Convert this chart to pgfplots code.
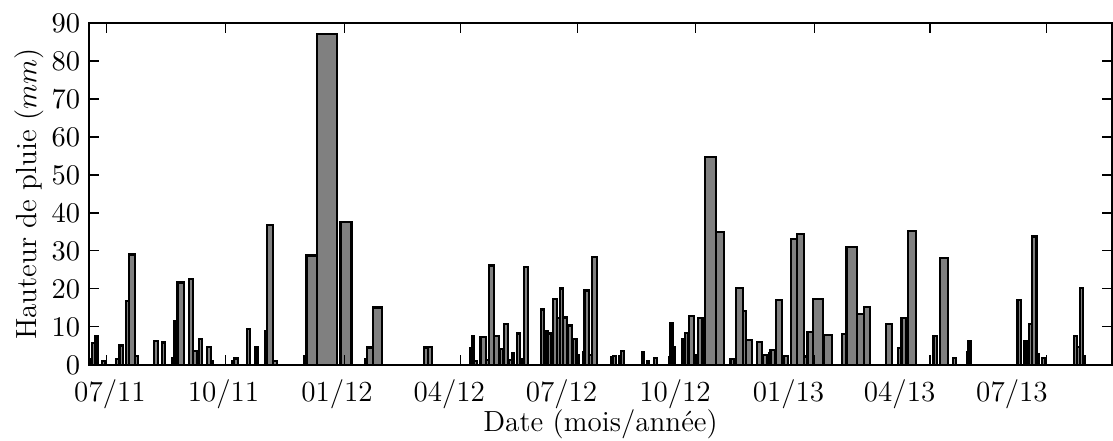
\documentclass[border=0pt]{standalone}
\usepackage{pgfplots}
\pgfplotsset{compat=1.18}
\pgfplotstableread{
x y
-16.2 1.5
-14.6 5.7
-12.2 7.7
-10.1 0
-6.5 1.1
-4.1 0
4.9 1.5
7.7 5.1
10.5 0
13.0 16.9
15.4 29.1
20.3 2.4
22.7 0
35.7 6.3
38.9 0
42.1 5.9
44.6 0
50.3 1.7
52.3 11.6
54.7 21.7
60.0 0
64.0 22.6
67.3 3.6
70.5 0
72.1 6.8
74.6 0
78.6 4.8
81.9 1.0
83.5 0
98.9 1.0
100.5 1.7
103.7 0
111.0 9.5
113.5 0
117.9 4.7
120.0 0
125.6 8.8
127.2 36.8
132.1 1.0
135.3 0
157.2 2.4
159.3 28.8
167.8 87.1
184.0 0
186.8 37.7
195.7 0
206.7 1.5
208.3 4.6
213.2 15.1
220.4 0
254.5 4.6
258.0 4.8
260.7 0
291.8 4.5
293.4 7.7
295.2 1.0
297.2 0
300.4 7.4
304.7 1.3
306.9 26.2
311.5 7.7
315.0 0
316.1 4.1
318.5 1.3
319.6 10.8
322.3 0
323.4 1.3
325.6 3.2
327.4 0
329.6 8.3
332.3 0
334.1 1.5
335.5 25.7
339.0 0
349.1 14.6
351.7 2.8
353.0 9.0
355.0 8.3
357.2 5.0
358.8 17.3
362.5 12.3
364.7 20.1
367.4 12.5
370.6 0
371.4 10.4
374.2 4.8
375.5 6.8
378.2 2.6
380.1 0
383.3 3.3
384.6 19.6
388.2 2.6
390.4 28.5
394.9 0
405.8 2.0
407.9 2.4
410.1 0
412.8 2.4
414.4 3.7
416.6 0
430.9 3.3
432.8 0
435.0 1.0
437.1 0
441.1 1.9
443.6 0
453.0 2.0
454.1 11.0
456.0 4.6
457.7 0
464.1 6.8
466.2 8.5
468.4 3.9
469.6 12.9
473.3 2.6
475.5 0
476.8 12.3
480.3 9.2
482.2 54.8
490.9 34.9
497.6 0
503.0 1.5
506.0 0
507.3 20.3
512.8 14.2
515.4 6.6
520.1 0
524.1 6.0
528.2 1.3
529.5 2.6
532.7 0
534.1 3.0
535.3 3.9
538.9 0
539.8 17.1
544.4 0
546.5 2.4
549.7 0
551.7 33.2
557.0 34.5
562.7 2.2
565.4 8.6
570.0 17.3
577.6 0
578.9 7.9
584.9 0
593.0 8.2
597.0 31.0
605.6 13.4
611.1 15.2
615.9 0
628.7 10.8
634.0 0
638.9 4.4
641.6 12.3
644.9 0
646.5 35.3
653.2 0
667.4 7.7
670.5 0
672.7 28.2
679.4 0
683.0 1.9
685.4 0
694.3 3.3
695.8 6.4
697.8 0
735.6 17.1
738.3 0
740.5 6.4
742.9 0
744.6 10.8
747.0 33.8
751.0 2.9
753.1 0
755.6 1.9
757.8 0
781.3 7.6
783.9 4.8
786.1 20.3
788.3 2.4
790.4 0
}\rain
\begin{document}
\begin{tikzpicture}
\begin{axis}[
  scale only axis,
  width=393.3pt, height=131.5pt,
  xmin=-16.8, xmax=812.1, ymin=0, ymax=90,
  axis line style={line width=0.8pt},
  tick style={line width=0.4pt, black},
  tick align=inside,
  major tick length=3.8pt,
  every tick label/.append style={font=\fontsize{11.2}{13.5}\selectfont},
  label style={font=\fontsize{11.2}{13.5}\selectfont},
  xticklabel style={yshift=-2.2pt},
  ytick={0,10,...,90},
  xtick={-2.7,93.8,189.9,283.9,379.3,474.9,570.8,664.6,759.1},
  xticklabels={},
  extra x ticks={0,92,184,275,366,458,550,640,731},
  extra x tick labels={07/11,10/11,01/12,04/12,07/12,10/12,01/13,04/13,07/13},
  extra x tick style={major tick length=0pt},
  xlabel={Date (mois/année)},
  ylabel={Hauteur de pluie ($mm$)},
  xlabel style={at={(axis description cs:0.5,-0.172)}, anchor=center},
  ylabel style={at={(axis description cs:-0.0587,0.5)}, anchor=center},
  axis on top,
]
\addplot[ybar interval, fill=black!50, draw=black, line width=0.85pt] table[x=x, y=y] {\rain};
\end{axis}
\pgfresetboundingbox
\path (current axis.south west) +(-34.3pt,-29.2pt) (current axis.north east) +(0.4pt,8.85pt);
\end{tikzpicture}
\end{document}
